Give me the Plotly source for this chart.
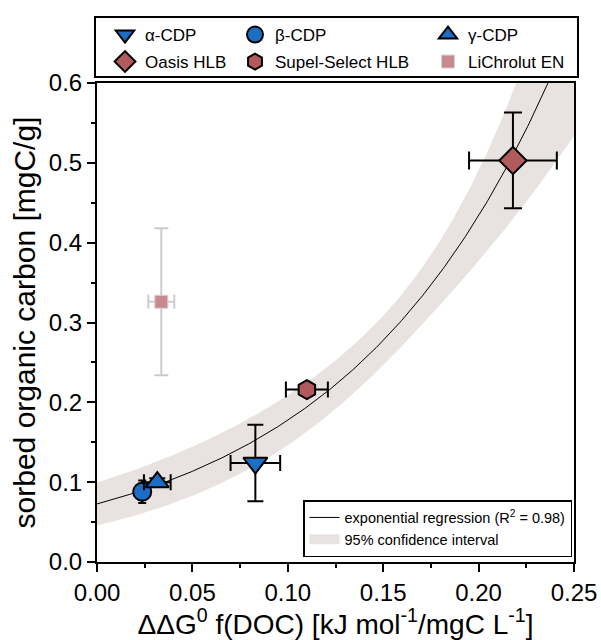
import numpy as np
import plotly.graph_objects as go

# ---- data ----
names = ["α-CDP", "β-CDP", "γ-CDP", "Oasis HLB", "Supel-Select HLB", "LiChrolut EN"]
x_vals = [0.083, 0.0237, 0.0316, 0.218, 0.110, 0.0337]
y_vals = [0.124, 0.088, 0.100, 0.503, 0.216, 0.326]
x_err = [0.013, 0.004, 0.007, 0.023, 0.011, 0.0068]
y_err = [0.048, 0.014, 0.005, 0.060, 0.005, 0.092]
symbols = ["triangle-down", "circle", "triangle-up", "diamond", "hexagon", "square"]
fill_colors = ["#1b6ec4", "#1b6ec4", "#1b6ec4", "#b15a5c", "#b15a5c", "#c98a8f"]
edge_colors = ["#000000"] * 5 + ["#d4d4d4"]
err_colors = ["#000000"] * 5 + ["#cccccc"]
marker_sizes = [21, 18, 20, 21, 19, 13]
cap_widths = [8, 4, 8, 9, 8, 7]

# exponential regression parameters y = a*exp(b*x) and CI band parameters
fit_a, fit_b = 0.0727, 8.93
ci_m, ci_c, ci_x0 = 6e-5, 0.0246, 0.165

x_ticks = [0.00, 0.05, 0.10, 0.15, 0.20, 0.25]
y_ticks = [0.0, 0.1, 0.2, 0.3, 0.4, 0.5, 0.6]

FONT = "Liberation Sans"
BAND = "#e8e3e1"

xf = np.linspace(0, 0.25, 300)
yf = fit_a * np.exp(fit_b * xf)
hw = np.exp(fit_b * xf) * np.sqrt(ci_m + ci_c * (xf - ci_x0) ** 2)

fig = go.Figure()
fig.add_trace(go.Scatter(x=xf, y=yf - hw, mode="lines", line=dict(width=0),
                         showlegend=False, hoverinfo="skip"))
fig.add_trace(go.Scatter(x=xf, y=yf + hw, mode="lines", line=dict(width=0),
                         fill="tonexty", fillcolor=BAND, showlegend=False, hoverinfo="skip"))
fig.add_trace(go.Scatter(x=xf, y=yf, mode="lines", line=dict(color="#000000", width=1),
                         name="exponential regression (R<sup>2</sup> = 0.98)",
                         legend="legend7", legendrank=1))
# legend entry for the confidence band
fig.add_trace(go.Scatter(x=[None], y=[None], mode="lines", line=dict(color=BAND, width=18),
                         name="95% confidence interval", legend="legend7", legendrank=2))

legend_ids = ["legend", "legend2", "legend3", "legend4", "legend5", "legend6"]
for i in range(len(names)):
    fig.add_trace(go.Scatter(
        x=[x_vals[i]], y=[y_vals[i]], mode="markers", name=names[i],
        legend=legend_ids[i],
        marker=dict(symbol=symbols[i], size=marker_sizes[i], color=fill_colors[i],
                    line=dict(color=edge_colors[i], width=2 if i < 5 else 1)),
        error_x=dict(type="data", array=[x_err[i]], color=err_colors[i], thickness=2, width=cap_widths[i]),
        error_y=dict(type="data", array=[y_err[i]], color=err_colors[i], thickness=2, width=cap_widths[i]),
    ))

# legend positions (paper coords)
L, R, T, B = 97, 574, 83, 562
W, H = R - L, B - T
def px(xp): return (xp - L) / W
def py(yp): return (B - yp) / H

col_x = [px(105), px(235), px(428)]
row_y = [py(35), py(62)]
leg_layout = {}
for i, lid in enumerate(legend_ids):
    leg_layout[lid] = dict(x=col_x[i % 3], y=row_y[i // 3], xanchor="left", yanchor="middle",
                           bgcolor="rgba(0,0,0,0)", borderwidth=0,
                           font=dict(family=FONT, size=17, color="#000000"))
leg_layout["legend7"] = dict(x=px(572), y=py(557), xanchor="right", yanchor="bottom",
                             bgcolor="#ffffff", bordercolor="#000000", borderwidth=1.5,
                             font=dict(family=FONT, size=14.5, color="#000000"),
                             traceorder="normal", tracegroupgap=0)

fig.update_layout(
    width=601, height=640,
    margin=dict(l=L, r=601 - R, t=T, b=640 - B, autoexpand=False),
    paper_bgcolor="#ffffff", plot_bgcolor="#ffffff",
    font=dict(family=FONT, color="#000000"),
    showlegend=True,
    **leg_layout,
    shapes=[dict(type="rect", xref="paper", yref="paper",
                 x0=px(95), x1=px(578), y0=py(77), y1=py(17),
                 line=dict(color="#000000", width=2), fillcolor="rgba(0,0,0,0)")],
)

fig.update_xaxes(
    range=[0, 0.25], tickvals=x_ticks, ticktext=[f"{v:.2f}" for v in x_ticks],
    showgrid=False, zeroline=False, showline=True, linecolor="#000000", linewidth=2,
    mirror=True, ticks="outside", ticklen=8, tickwidth=2, tickcolor="#000000",
    minor=dict(dtick=0.025, tick0=0, ticks="outside", ticklen=4, tickwidth=2, tickcolor="#000000"),
    tickfont=dict(family=FONT, size=24), automargin=False,
    title=dict(text="ΔΔG<sup>0</sup> f(DOC) [kJ mol<sup>-1</sup>/mgC L<sup>-1</sup>]",
               font=dict(family=FONT, size=28), standoff=8),
)
fig.update_yaxes(
    range=[0, 0.6], tickvals=y_ticks, ticktext=[f"{v:.1f}" for v in y_ticks],
    showgrid=False, zeroline=False, showline=True, linecolor="#000000", linewidth=2,
    mirror=True, ticks="outside", ticklen=8, tickwidth=2, tickcolor="#000000",
    minor=dict(dtick=0.05, tick0=0, ticks="outside", ticklen=4, tickwidth=2, tickcolor="#000000"),
    tickfont=dict(family=FONT, size=24), automargin=False,
    title=dict(text="sorbed organic carbon [mgC/g]", font=dict(family=FONT, size=30), standoff=4),
)

fig.write_html("out.html")
